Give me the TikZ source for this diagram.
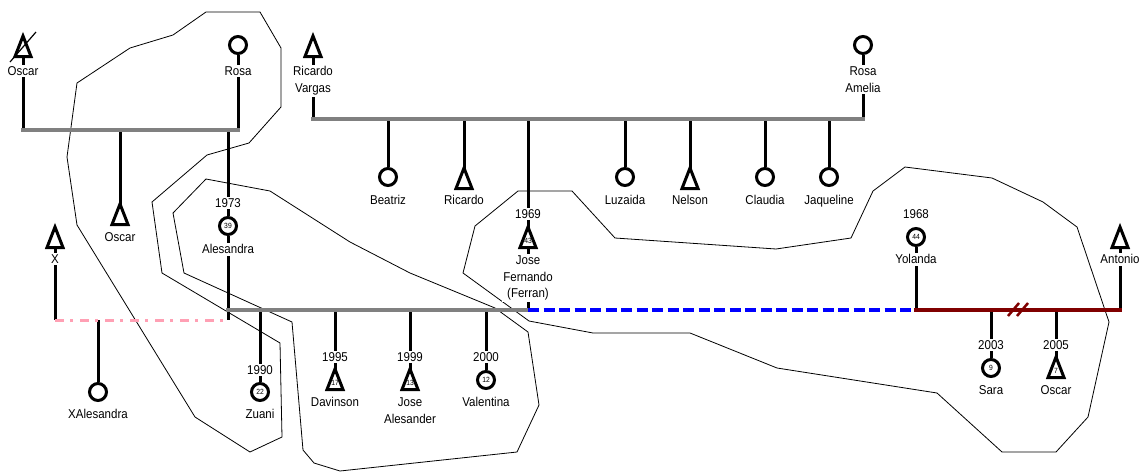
\documentclass[tikz,border=0pt]{standalone}
\usepackage{fontspec}
\setmainfont{Liberation Sans}[FakeStretch=0.9]
\newcommand\lblfont{\fontsize{12.8}{16.5}\selectfont}
\newcommand\numfont{\fontsize{7.5}{8}\selectfont}
\definecolor{kgray}{RGB}{128,128,128}
\definecolor{kpink}{RGB}{255,160,180}
\definecolor{kred}{RGB}{128,0,0}
\definecolor{kblue}{RGB}{0,0,255}
\tikzset{
  kin/.style={line width=3pt},
  bargray/.style={kgray, line width=3.5pt, line cap=rect},
  barred/.style={kred, line width=3.5pt, line cap=rect},
  barblue/.style={kblue, line width=3.2pt, dash pattern=on 11pt off 4.5pt},
  barpink/.style={kpink, line width=3pt, dash pattern=on 9pt off 6pt on 3pt off 7pt},
  hull/.style={line width=0.8pt, line join=miter},
  lbl/.style={fill=white, inner sep=1.5pt, font=\lblfont, align=center, anchor=north},
  fem/.style={circle, draw, line width=3pt, fill=white, minimum size=17pt, inner sep=0pt, font=\numfont},
  male/.pic={
    \path[draw, line width=3pt, fill=white, line join=miter] (0,-9) -- (8,11.5) -- (-8,11.5) -- cycle;
    \node[font=\numfont, inner sep=0pt] (-n) at (0,5) {#1};
  }
}
\begin{document}
\begin{tikzpicture}[x=1pt,y=-1pt]
\useasboundingbox (0,0) rectangle (1139,471);

% enclosures
\draw[hull] (206,12) -- (260,12) -- (281,48) -- (281,107) -- (249,143) -- (207,155) -- (152,202) -- (162,273) -- (280,343) -- (282,437) -- (250,452) -- (195,417) -- (77,225) -- (67,157) -- (77,83) -- (130,48) -- (173,35) -- cycle;
\draw[hull] (206,179) -- (270,191) -- (350,242) -- (410,273) -- (495,308) -- (528,332) -- (539,405) -- (517,452) -- (340,471) -- (314,463) -- (303,450) -- (292,322) -- (184,273) -- (173,213) -- cycle;
\draw[hull] (518,191) -- (572,191) -- (615,238) -- (776,249) -- (851,238) -- (873,191) -- (905,167) -- (992,178) -- (1043,202) -- (1077,227) -- (1109,322) -- (1088,417) -- (1056,452) -- (1002,452) -- (937,393) -- (777,368) -- (690,333) -- (593,333) -- (529,321) -- (463,273) -- (475,226) -- cycle;

% people positions
\coordinate (oscarA) at (23,45);
\node[fem] (rosaA) at (238,45) {};
\coordinate (oscarB) at (120,213);
\node[fem] (alesandra) at (228,226) {39};
\coordinate (xman) at (55,236);
\node[fem] (xalesandra) at (98,392) {};
\node[fem] (zuani) at (260,392) {22};
\coordinate (davinson) at (335,378);
\coordinate (josea) at (410,378);
\node[fem] (valentina) at (486,380) {12};
\coordinate (ricardoV) at (313,45);
\node[fem] (rosaAm) at (863,45) {};
\node[fem] (beatriz) at (388,177) {};
\coordinate (ricardo) at (464,177);
\node[fem] (luzaida) at (625,177) {};
\coordinate (nelson) at (690,177);
\node[fem] (claudia) at (765,177) {};
\node[fem] (jaqueline) at (829,177) {};
\coordinate (josef) at (528,236);
\node[fem] (yolanda) at (916,237) {44};
\coordinate (antonio) at (1120,236);
\node[fem] (sara) at (991,368) {9};
\coordinate (oscarC) at (1056,366);

% junctions
\coordinate (j1l) at (23,130);
\coordinate (j1r) at (238,130);
\coordinate (j1o) at (120,130);
\coordinate (j1a) at (228,130);
\coordinate (mL) at (228,310);
\coordinate (mZ) at (260,310);
\coordinate (mD) at (335,310);
\coordinate (mJ) at (410,310);
\coordinate (mV) at (486,310);
\coordinate (mR) at (528,310);
\coordinate (pL) at (55,320);
\coordinate (pR) at (228,320);
\coordinate (pX) at (98,320);
\coordinate (t2l) at (313,119);
\coordinate (t2r) at (863,119);
\coordinate (t2b) at (388,119);
\coordinate (t2r2) at (464,119);
\coordinate (t2j) at (528,119);
\coordinate (t2lu) at (625,119);
\coordinate (t2n) at (690,119);
\coordinate (t2c) at (765,119);
\coordinate (t2ja) at (829,119);
\coordinate (yL) at (916,310);
\coordinate (aR) at (1120,310);
\coordinate (sJ) at (991,310);
\coordinate (oJ) at (1056,310);
\coordinate (div) at (1018,310);

% connectors
\draw[kin] (oscarA) -- (j1l);
\draw[kin] (rosaA) -- (j1r);
\draw[kin] (j1o) -- (oscarB);
\draw[kin] (j1a) -- (alesandra);
\draw[kin] (alesandra) -- (pR);
\draw[kin] (xman) -- (pL);
\draw[kin] (pX) -- (xalesandra);
\draw[kin] (mZ) -- (zuani);
\draw[kin] (mD) -- (davinson);
\draw[kin] (mJ) -- (josea);
\draw[kin] (mV) -- (valentina);
\draw[kin] (ricardoV) -- (t2l);
\draw[kin] (rosaAm) -- (t2r);
\draw[kin] (t2b) -- (beatriz);
\draw[kin] (t2r2) -- (ricardo);
\draw[kin] (t2j) -- (josef) -- (mR);
\draw[kin] (t2lu) -- (luzaida);
\draw[kin] (t2n) -- (nelson);
\draw[kin] (t2c) -- (claudia);
\draw[kin] (t2ja) -- (jaqueline);
\draw[kin] (yolanda) -- (yL);
\draw[kin] (antonio) -- (aR);
\draw[kin] (sJ) -- (sara);
\draw[kin] (oJ) -- (oscarC);

\draw[bargray] (j1l) -- (j1r);
\draw[bargray] (t2l) -- (t2r);
\draw[bargray] (mL) -- (mR);
\draw[barpink] (pL) -- (pR);
\draw[barblue] (mR) -- (yL);
\draw[barred] (yL) -- (aR);
\draw[kred, line width=2.5pt] (div) ++(-10,6) -- ++(11,-13);
\draw[kred, line width=2.5pt] (div) ++(-1,6) -- ++(11,-13);

% male symbols
\pic (sOscarA) at (oscarA) {male={}};
\draw[line width=1.2pt] (oscarA) ++(-13,17) -- ++(26,-30);
\pic (sOscarB) at (oscarB) {male={}};
\pic (sX) at (xman) {male={}};
\pic (sDavinson) at (davinson) {male={17}};
\pic (sJosea) at (josea) {male={13}};
\pic (sRicardoV) at (ricardoV) {male={}};
\pic (sRicardo) at (ricardo) {male={}};
\pic (sNelson) at (nelson) {male={}};
\pic (sJosef) at (josef) {male={43}};
\pic (sAntonio) at (antonio) {male={}};
\pic (sOscarC) at (oscarC) {male={7}};

% labels
\node[lbl] (lOscarA) at (23,65) {Oscar};
\node[lbl] (lRosaA) at (238,65) {Rosa};
\node[lbl] (lOscarB) at (120,231) {Oscar};
\node[lbl] (yAlesandra) at (228,197) {1973};
\node[lbl] (lAlesandra) at (228,243) {Alesandra};
\node[lbl] (lX) at (55,253) {X};
\node[lbl] (lXAlesandra) at (98,408) {XAlesandra};
\node[lbl] (yZuani) at (260,364) {1990};
\node[lbl] (lZuani) at (260,408) {Zuani};
\node[lbl] (yDavinson) at (335,351) {1995};
\node[lbl] (lDavinson) at (335,396) {Davinson};
\node[lbl] (yJosea) at (410,351) {1999};
\node[lbl] (lJosea) at (410,396) {Jose\\Alesander};
\node[lbl] (yValentina) at (486,351) {2000};
\node[lbl] (lValentina) at (486,396) {Valentina};
\node[lbl] (lRicardoV) at (313,65) {Ricardo\\Vargas};
\node[lbl] (lRosaAm) at (863,65) {Rosa\\Amelia};
\node[lbl] (lBeatriz) at (388,194) {Beatriz};
\node[lbl] (lRicardo) at (464,194) {Ricardo};
\node[lbl] (lLuzaida) at (625,194) {Luzaida};
\node[lbl] (lNelson) at (690,194) {Nelson};
\node[lbl] (lClaudia) at (765,194) {Claudia};
\node[lbl] (lJaqueline) at (829,194) {Jaqueline};
\node[lbl] (yJosef) at (528,208) {1969};
\node[lbl] (lJosef) at (528,254) {Jose\\Fernando\\(Ferran)};
\node[lbl] (yYolanda) at (916,208) {1968};
\node[lbl] (lYolanda) at (916,253) {Yolanda};
\node[lbl] (lAntonio) at (1120,253) {Antonio};
\node[lbl] (ySara) at (991,339) {2003};
\node[lbl] (lSara) at (991,384) {Sara};
\node[lbl] (yOscarC) at (1056,339) {2005};
\node[lbl] (lOscarC) at (1056,384) {Oscar};
\end{tikzpicture}
\end{document}
